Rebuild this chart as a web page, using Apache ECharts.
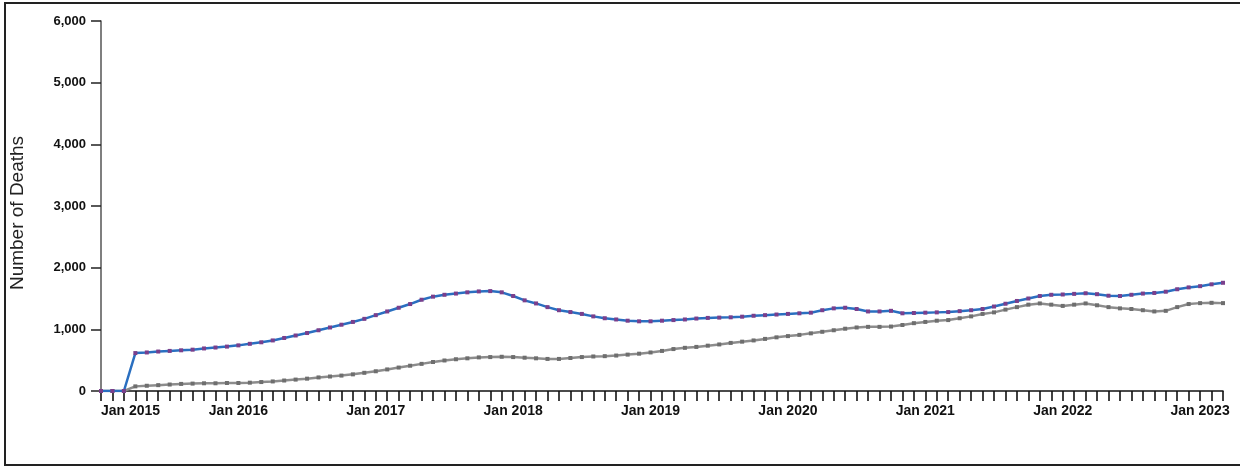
<!DOCTYPE html>
<html>
<head>
<meta charset="utf-8">
<script src="https://cdn.jsdelivr.net/npm/echarts@6/dist/echarts.min.js"></script>
<style>
  html, body { margin: 0; padding: 0; background: #fff; }
  #chart { width: 1240px; height: 467px; }
</style>
</head>
<body>
<div id="chart"></div>
<script>
// months Jan 2015 .. Mar 2023
const years = [2015, 2016, 2017, 2018, 2019, 2020, 2021, 2022, 2023]
const monthNames = ['Jan', 'Feb', 'Mar', 'Apr', 'May', 'Jun', 'Jul', 'Aug', 'Sep', 'Oct', 'Nov', 'Dec']
const lastMonthCount = 3 // 2023 only runs to Mar

const blueValues = [
  0, 0, 0, 615, 625, 640, 650, 660, 670, 690, 705, 720,
  740, 765, 790, 820, 860, 900, 940, 985, 1030, 1075, 1120, 1170,
  1230, 1290, 1350, 1410, 1480, 1530, 1560, 1580, 1600, 1615, 1620, 1600,
  1540, 1470, 1420, 1360, 1310, 1280, 1250, 1210, 1180, 1160, 1140, 1130,
  1130, 1140, 1150, 1160, 1175, 1185, 1190, 1195, 1205, 1220, 1230, 1240,
  1250, 1260, 1270, 1310, 1340, 1350, 1330, 1290, 1290, 1300, 1260, 1265,
  1270, 1275, 1280, 1295, 1310, 1330, 1370, 1415, 1460, 1500, 1540, 1560,
  1565, 1575, 1585, 1570, 1545, 1540, 1560, 1580, 1590, 1610, 1650, 1680,
  1700, 1730, 1755
]

const grayValues = [
  0, 0, 0, 75, 85, 95, 105, 115, 120, 125, 125, 130,
  130, 135, 145, 155, 170, 185, 200, 220, 235, 250, 270, 295,
  320, 350, 380, 410, 440, 470, 495, 515, 530, 545, 550, 555,
  550, 540, 530, 520, 520, 535, 550, 560, 565, 575, 590, 605,
  625, 650, 680, 700, 715, 735, 755, 780, 800, 820, 845, 870,
  890, 910, 935, 960, 985, 1010, 1030, 1040, 1040, 1045, 1070, 1100,
  1120, 1140, 1150, 1180, 1210, 1250, 1275, 1320, 1360, 1400, 1420, 1400,
  1380, 1400, 1420, 1390, 1360, 1340, 1330, 1310, 1290, 1300, 1360, 1410,
  1425, 1430, 1425
]

let categories = []
years.forEach((y, yi) => {
  const n = yi === years.length - 1 ? lastMonthCount : 12
  for (let m = 0; m < n; m++) {
    categories.push(monthNames[m] + ' ' + y)
  }
})

const chart = echarts.init(document.getElementById('chart'))
chart.setOption({
  animation: false,
  textStyle: { fontFamily: 'Liberation Sans, Arial, sans-serif' },
  graphic: [
    {
      // frame: left, top, bottom
      type: 'polyline',
      shape: { points: [[1242, 3], [5, 3], [5, 465], [1242, 465]] },
      style: { fill: 'none', stroke: '#222', lineWidth: 2 },
      silent: true,
    },
  ],
  grid: {
    left: 101,
    right: 17,
    top: 21,
    height: 370,
  },
  xAxis: {
    type: 'category',
    boundaryGap: false,
    data: categories,
    axisLine: { lineStyle: { color: '#111', width: 1.5 } },
    axisTick: {
      show: true,
      interval: 0,
      length: 10,
      lineStyle: { color: '#111', width: 1.6 },
    },
    axisLabel: {
      interval: function (index) {
        return index % 12 === 0
      },
      alignMinLabel: 'left',
      margin: 13,
      color: '#111',
      fontSize: 14,
      fontWeight: 'bold',
    },
  },
  yAxis: {
    type: 'value',
    min: 0,
    max: 6000,
    interval: 1000,
    name: 'Number of Deaths',
    nameLocation: 'middle',
    nameGap: 74,
    nameTextStyle: { fontSize: 19, color: '#222', padding: [0, 14, 0, 0] },
    splitLine: { show: false },
    axisLine: { show: true, lineStyle: { color: '#555', width: 1.5 } },
    axisTick: { show: true, length: 10, lineStyle: { color: '#222', width: 1.5 } },
    axisLabel: {
      margin: 15,
      color: '#111',
      fontSize: 13,
      fontWeight: 'bold',
      formatter: function (v) {
        return v.toLocaleString('en-US')
      },
    },
  },
  series: [
    {
      name: 'gray',
      type: 'line',
      data: grayValues,
      symbol: 'rect',
      symbolSize: 4,
      lineStyle: { color: '#8c8c8c', width: 2.5 },
      itemStyle: { color: '#6e6e6e' },
      z: 2,
    },
    {
      name: 'blue',
      type: 'line',
      data: blueValues,
      symbol: 'rect',
      symbolSize: 4,
      lineStyle: { color: '#2a6fc0', width: 2.5 },
      itemStyle: { color: '#7a3f8c' },
      z: 3,
    },
  ],
})
</script>
</body>
</html>
